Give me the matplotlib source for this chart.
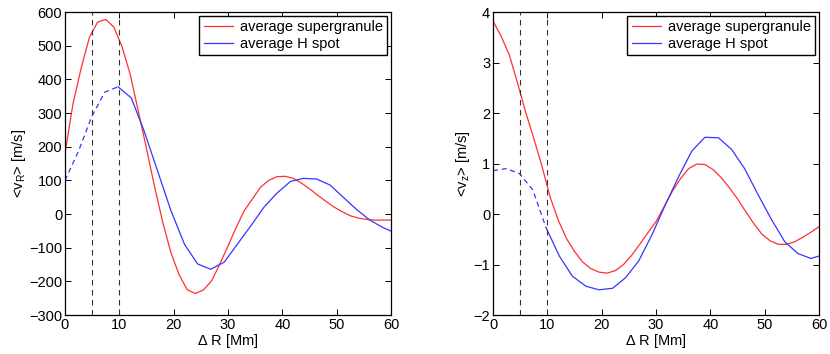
import numpy as np
import matplotlib
matplotlib.use('Agg')
import matplotlib.pyplot as plt

plt.rcParams['font.family'] = ['Liberation Sans', 'DejaVu Sans']
plt.rcParams['font.size'] = 10.5

# supergranule curves are sampled finer than the H spot curves
x_sg = [0.0, 1.5, 3.0, 4.5, 6.0, 7.5, 9.0, 10.5, 12.0, 13.5, 15.0, 16.5, 18.0, 19.5,
        21.0, 22.5, 24.0, 25.5, 27.0, 28.5, 30.0, 31.5, 33.0, 34.5, 36.0, 37.5, 39.0,
        40.5, 42.0, 43.5, 45.0, 46.5, 48.0, 49.5, 51.0, 52.5, 54.0, 55.5, 57.0, 58.5, 60.0]
vr_sg = [180, 330, 435, 525, 570, 578, 555, 497, 415, 305, 195, 80, -25, -115,
         -180, -225, -236, -225, -198, -148, -95, -40, 10, 45, 80, 100, 111,
         112, 106, 92, 75, 56, 38, 21, 7, -5, -12, -16, -18, -18, -18]
vz_sg = [3.82, 3.52, 3.15, 2.6, 2.02, 1.5, 0.95, 0.34, -0.12, -0.48, -0.74, -0.95, -1.08, -1.15,
         -1.17, -1.12, -1.0, -0.82, -0.6, -0.37, -0.15, 0.15, 0.45, 0.7, 0.9, 0.99, 0.98,
         0.88, 0.72, 0.52, 0.3, 0.05, -0.19, -0.4, -0.53, -0.6, -0.6, -0.55, -0.46, -0.36, -0.25]

x_hs = [0.0, 2.44, 4.88, 7.32, 9.76, 12.2, 14.6, 17.1, 19.5, 22.0, 24.4, 26.8, 29.3,
        31.7, 34.2, 36.6, 39.0, 41.5, 43.9, 46.3, 48.8, 51.2, 53.7, 56.1, 58.5, 61.0]
vr_hs = [100, 185, 288, 362, 378, 345, 245, 125, 10, -90, -148, -164, -143,
         -90, -35, 20, 62, 97, 106, 104, 86, 50, 13, -18, -40, -58]
vz_hs = [0.86, 0.90, 0.80, 0.48, -0.27, -0.83, -1.23, -1.43, -1.50, -1.47, -1.26, -0.93, -0.40,
         0.18, 0.75, 1.25, 1.52, 1.51, 1.28, 0.90, 0.38, -0.10, -0.55, -0.78, -0.88, -0.80]

n_dash = 5          # first H spot points drawn dashed (up to 9.76 Mm)
vlines = [5, 10]

fig = plt.figure(figsize=(8.3, 3.54), dpi=100)
ax1 = fig.add_axes([0.0783, 0.110, 0.3928, 0.856])
ax2 = fig.add_axes([0.594, 0.110, 0.3928, 0.856])

panels = [
    (ax1, vr_sg, vr_hs, (-300, 600), np.arange(-300, 601, 100), r'<v$_\mathregular{R}$> [m/s]'),
    (ax2, vz_sg, vz_hs, (-2, 4), np.arange(-2, 5, 1), r'<v$_\mathregular{z}$> [m/s]'),
]

for ax, sg, hs, ylim, yticks, ylabel in panels:
    ax.plot(x_sg, sg, color='#ff3030', lw=0.9, label='average supergranule')
    ax.plot(x_hs[n_dash - 1:], hs[n_dash - 1:], color='#3535ff', lw=0.9, label='average H spot')
    ax.plot(x_hs[:n_dash], hs[:n_dash], color='#3535ff', lw=0.9, ls=(0, (4, 3)))
    for v in vlines:
        ax.axvline(v, color='#333333', lw=0.8, ls=(0, (5, 4)))
    ax.set_xlim(0, 60)
    ax.set_ylim(*ylim)
    ax.set_xticks(np.arange(0, 61, 10))
    ax.set_yticks(yticks)
    ax.tick_params(direction='in', top=True, right=True, length=4, width=0.7, labelsize=10.5, pad=2)
    for s in ax.spines.values():
        s.set_linewidth(0.9)
    ax.set_xlabel(r'$\mathregular{\Delta}$ R [Mm]', labelpad=0)
    ax.set_ylabel(ylabel, labelpad=1)
    leg = ax.legend(loc='upper right', fancybox=False, framealpha=1, edgecolor='black',
                    borderaxespad=0.25, handlelength=2.0, labelspacing=0.2,
                    borderpad=0.3, handletextpad=0.5, fontsize=10.5)
    leg.get_frame().set_linewidth(1.0)

fig.savefig('out.png', dpi=100)
